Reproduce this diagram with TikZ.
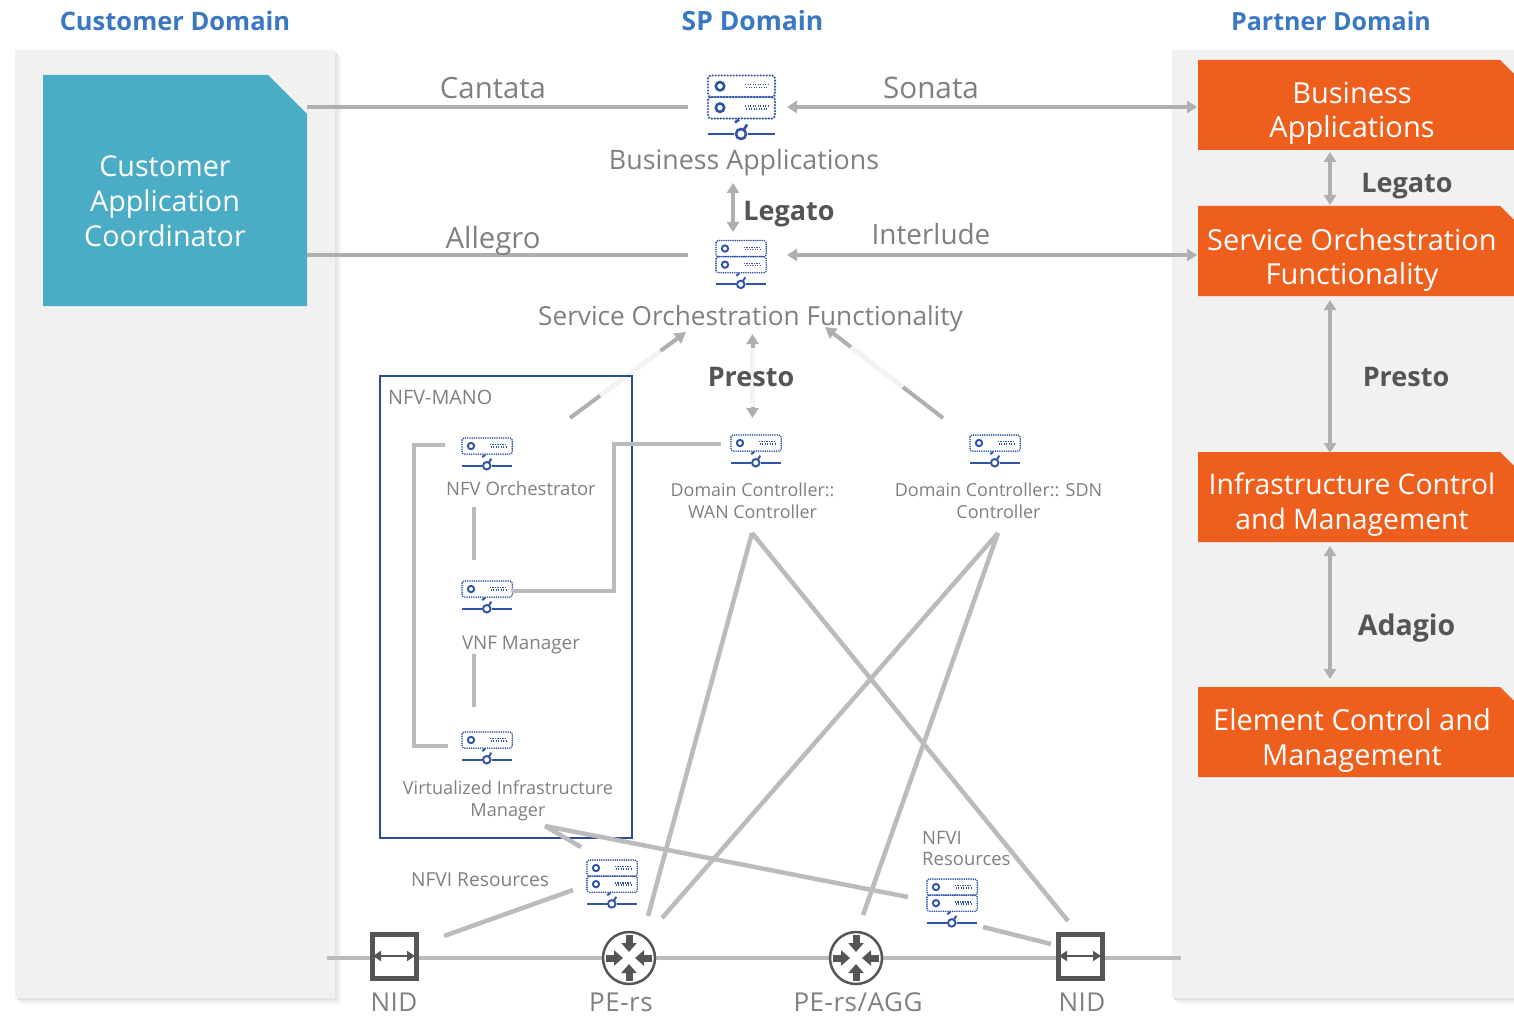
\documentclass[tikz,border=0pt]{standalone}
\usepackage{fontspec}
\setmainfont{Open Sans}
\usetikzlibrary{arrows.meta,calc}
\definecolor{panelc}{HTML}{F1F1F1}
\definecolor{tealc}{HTML}{4AACC5}
\definecolor{orangec}{HTML}{EE5F1D}
\definecolor{headc}{HTML}{3A78C3}
\definecolor{linec}{HTML}{BBBBBB}
\definecolor{arrowc}{HTML}{AFAFAF}
\definecolor{textc}{HTML}{808080}
\definecolor{boldc}{HTML}{555555}
\definecolor{iconc}{HTML}{2F55A4}
\definecolor{darkc}{HTML}{555555}
\definecolor{fadec}{HTML}{F3F3F3}
\newcommand{\fs}[1]{\fontsize{#1}{#1}\selectfont}
\newcommand{\softpanel}[4]{%
  \fill[black!4] (#1+6,#2+6) rectangle (#3+6,#4+6);
  \fill[black!7] (#1+4,#2+4) rectangle (#3+4,#4+4);
  \fill[black!11] (#1+2,#2+2) rectangle (#3+2,#4+2);
  \fill[panelc] (#1,#2) rectangle (#3,#4);}
\tikzset{
  lbl/.style={text=textc,inner sep=0pt,align=center,font=\fs{27}},
  botlbl/.style={text=textc,inner sep=0pt,align=center,font=\fs{26}\addfontfeature{LetterSpace=2}},
  smalllbl/.style={text=textc,inner sep=0pt,align=center,font=\fs{18.5},text depth=0pt},
  head/.style={text=headc,inner sep=0pt},
  proto/.style={text=boldc,inner sep=0pt,font=\fs{27}\bfseries},
  whitetxt/.style={text=white,inner sep=0pt,align=center,font=\fs{29}},
  conn/.style={draw=linec,line width=4.5pt},
  both/.style={draw=arrowc,line width=4pt,{Triangle[length=10pt,width=12pt]}-{Triangle[length=10pt,width=12pt]}},
  bothv/.style={both,line width=4.6pt},
  tipend/.style={draw=arrowc,line width=4pt,-{Triangle[length=11pt,width=12pt]}},
  fadeseg/.style={draw=fadec,line width=4.6pt},
  anchorpt/.style={inner sep=0pt,minimum size=0pt},
}
% name, x, y of top-left, scale, rows
\newcommand{\srvicon}[5]{%
  \begin{scope}[shift={(#2,#3)},x=#4pt,y=-#4pt]
    \node[anchorpt] (#1) at (33.5,30) {};
    \pgfmathsetmacro{\rowh}{21.5}
    \foreach \r in {1,...,#5}{
      \pgfmathsetmacro{\ya}{(\r-1)*\rowh}
      \pgfmathsetmacro{\yb}{\r*\rowh}
      \draw[iconc,line width=#4*2.4pt,line cap=round,dash pattern=on 0pt off #4*3pt,rounded corners=#4*3pt] (0,\ya) rectangle (67,\yb);
      \draw[iconc,line width=#4*2.6pt] (12,\ya+10.7) circle (4.2);
      \draw[iconc,line width=#4*1.7pt,dash pattern=on 1.4pt off 1.1pt] (37,\ya+9) -- (60,\ya+9);
      \draw[iconc,line width=#4*1.7pt,dash pattern=on 1.4pt off 1.1pt] (38,\ya+12) -- (59,\ya+12);
    }
    \pgfmathsetmacro{\yc}{#5*\rowh}
    \draw[iconc,line width=#4*2.6pt] (0,\yc+15.5) -- (26,\yc+15.5) (40,\yc+15.5) -- (67,\yc+15.5);
    \draw[iconc,line width=#4*2.6pt] (33,\yc+15.5) circle (5);
    \draw[iconc,line width=#4*2.6pt] (31,\yc+1) -- (27,\yc+4) (36,\yc+11) -- (39,\yc+6);
  \end{scope}}
% name, centre x, y
\newcommand{\nidicon}[3]{%
  \node[draw=darkc,line width=5pt,minimum size=44pt,inner sep=0pt,fill=white] (#1) at (#2,#3) {};
  \draw[darkc,line width=2.5pt,{Triangle[length=8pt,width=10pt]}-{Triangle[length=8pt,width=10pt]}] ($(#1.west)+(3.5,0)$) -- ($(#1.east)+(-3.5,0)$);}
\newcommand{\routericon}[3]{%
  \node[circle,draw=darkc,line width=2.5pt,minimum size=52pt,inner sep=0pt,fill=white] (#1) at (#2,#3) {};
  \foreach \a in {0,90,180,270}{
    \draw[darkc,line width=7pt,-{Triangle[length=9pt,width=15pt]}] ($(#1)+(\a:23)$) -- ($(#1)+(\a:6)$);
  }}
\begin{document}
\begin{tikzpicture}[x=1pt,y=-1pt]
\useasboundingbox (0,0) rectangle (1514,1016);
\fill[white] (0,0) rectangle (1514,1016);
% panels
\softpanel{15}{50}{335}{998}
\softpanel{1172}{50}{1514}{998}
% headers
\node[head,font=\fs{25.5}\bfseries] (h1) at (175,21) {Customer Domain};
\node[head,font=\fs{26.5}\bfseries] (h2) at (752.5,21) {SP Domain};
\node[head,font=\fs{25}\bfseries] (h3) at (1331,21) {Partner Domain};
% customer box
\fill[tealc] (43,75) -- (268,75) -- (307,114) -- (307,306) -- (43,306) -- cycle;
\node[whitetxt,font=\fs{28.7}] (cac) at (165,201) {Customer\\[6.3pt]Application\\[6.3pt]Coordinator};
\coordinate (cacT) at (307,107);
\coordinate (cacB) at (307,255);
% orange boxes
\foreach \n/\ya in {b1/60,b2/206,b3/452,b4/687}{
  \fill[orangec] (1198,\ya) -- (1500,\ya) -- (1514,\ya+14) -- (1514,\ya+90) -- (1198,\ya+90) -- cycle;
  \coordinate (\n) at (1198,\ya+47);
}
\node[whitetxt] (t1) at (1352,113) {Business\\[5pt]Applications};
\node[whitetxt] (t2) at (1352,259.5) {Service Orchestration\\[5pt]Functionality};
\node[whitetxt,font=\fs{28.3}] (t3) at (1352,505) {Infrastructure Control\\[6.7pt]and Management};
\node[whitetxt] (t4) at (1352,740.5) {Element Control and\\[6pt]Management};
% icons
\srvicon{ba}{708}{75.5}{1}{2}
\srvicon{so}{716}{240.5}{.75}{2}
\srvicon{nfvo}{462}{438}{.75}{1}
\srvicon{vnfm}{462}{581}{.75}{1}
\srvicon{vim}{462}{732}{.75}{1}
\srvicon{wan}{731}{435}{.75}{1}
\srvicon{sdn}{970}{435}{.75}{1}
\srvicon{res1}{587}{860}{.75}{2}
\srvicon{res2}{927}{879}{.75}{2}
% endpoint coordinates
\coordinate (baL) at (688,107); \coordinate (baR) at (787,107);
\coordinate (soL) at (688,255); \coordinate (soR) at (787,255);
\coordinate (legT) at (733,183); \coordinate (legB) at (733,232);
\coordinate (r1a) at (1330,152); \coordinate (r1b) at (1330,205);
\coordinate (r2a) at (1330,300); \coordinate (r2b) at (1330,453);
\coordinate (r3a) at (1330,546); \coordinate (r3b) at (1330,679);
\coordinate (sonR) at (1197,107); \coordinate (intR) at (1197,255);
% top connectors
\draw[conn,draw=arrowc] (cacT) -- (baL);
\draw[conn,draw=arrowc] (cacB) -- (soL);
\draw[both] (baR) -- (sonR);
\draw[both] (soR) -- (intR);
\draw[bothv] (legT) -- (legB);
\draw[bothv] (r1a) -- (r1b);
\draw[bothv] (r2a) -- (r2b);
\draw[bothv] (r3a) -- (r3b);
% presto arrows with faded middle parts
\coordinate (pLa) at (570,418); \coordinate (pLb) at (686,332);
\coordinate (pCa) at (752.5,334); \coordinate (pCb) at (752.5,418);
\coordinate (pRa) at (943,418); \coordinate (pRb) at (825,327);
\draw[tipend] (pLa) -- (pLb);
\draw[both] (pCa) -- (pCb);
\draw[tipend] (pRa) -- (pRb);
\draw[fadeseg] ($(pLa)!.26!(pLb)$) -- ($(pLa)!.78!(pLb)$);
\draw[fadeseg] (pCa|-0,348) -- (pCa|-0,407);
\draw[fadeseg] ($(pRa)!.34!(pRb)$) -- ($(pRa)!.78!(pRb)$);
% MANO box
\node[draw=iconc!90!black,line width=1.6pt,minimum width=252pt,minimum height=462pt,inner sep=0pt] (mano) at (506,607) {};
\node[text=textc,inner sep=0pt,font=\fs{19.8},anchor=west] (manol) at (388,397.5) {NFV-MANO};
% mano connectors
\coordinate (brA) at (445,445); \coordinate (brB) at (448,746);
\coordinate (m1a) at (474,507); \coordinate (m1b) at (474,560);
\coordinate (m2a) at (474,654); \coordinate (m2b) at (474,707);
\coordinate (vnR) at (512,591); \coordinate (wnL) at (721,444);
\draw[conn] (brA) -- (414,445) -- (414,746) -- (brB);
\draw[conn] (m1a) -- (m1b);
\draw[conn] (m2a) -- (m2b);
\draw[conn] (vnR) -- (614,591) -- (614,444) -- (wnL);
% lower connectors
\coordinate (wanB) at (752,533); \coordinate (sdnB) at (998,533);
\coordinate (peA) at (648,916); \coordinate (peB) at (662,918);
\coordinate (agA) at (863,915); \coordinate (nidT) at (1068,921);
\coordinate (vimB) at (545,826); \coordinate (vimA) at (581,847); \coordinate (res2L) at (908,897);
\coordinate (res1L) at (573,890); \coordinate (nid1T) at (444,936);
\coordinate (res2R) at (983,927); \coordinate (nid2L) at (1051,944);
\coordinate (busL) at (327,958); \coordinate (busR) at (1181,958);
\draw[conn] (wanB) -- (peA);
\draw[conn] (wanB) -- (nidT);
\draw[conn] (sdnB) -- (peB);
\draw[conn] (sdnB) -- (agA);
\draw[conn] (vimB) -- (vimA);
\draw[conn] (vimB) -- (res2L);
\draw[conn] (res1L) -- (nid1T);
\draw[conn] (res2R) -- (nid2L);
\draw[conn] (busL) -- (busR);
% devices
\nidicon{nid1}{394}{956}
\nidicon{nid2}{1080}{956}
\routericon{pe1}{629}{958}
\routericon{pe2}{856}{958}
% labels
\node[lbl,font=\fs{29.3}] (l1) at (493,88) {Cantata};
\node[lbl,font=\fs{29.7}] (l2) at (931,88) {Sonata};
\node[lbl,font=\fs{29.3}] (l3) at (493,241) {Allegro};
\node[lbl,font=\fs{27.9}] (l4) at (931,234) {Interlude};
\node[lbl,font=\fs{26.8}] (l5) at (744,163) {Business Applications};
\node[lbl,font=\fs{26.2}] (l6) at (750.5,319) {Service Orchestration Functionality};
\node[proto] (p1) at (789,214) {Legato};
\node[proto] (p2) at (1407,186) {Legato};
\node[proto] (p3) at (751,377) {Presto};
\node[proto] (p4) at (1406,377) {Presto};
\node[proto,font=\fs{28.5}\bfseries] (p5) at (1406.5,628) {Adagio};
\node[smalllbl] (s1) at (521,488.5) {NFV Orchestrator};
\node[smalllbl,font=\fs{18.8}] (s2) at (521,642.5) {VNF Manager};
\node[smalllbl,font=\fs{18.1}] (s3) at (508,798.5) {Virtualized Infrastructure\\[3.4pt]Manager};
\node[smalllbl,font=\fs{17.9}] (s4) at (752.5,500.5) {Domain Controller::\\[3.6pt]WAN Controller};
\node[smalllbl,font=\fs{18}] (s5) at (998.5,500.5) {Domain Controller:: SDN\\[3.5pt]Controller};
\node[smalllbl,font=\fs{19.2}] (s6) at (480,879.5) {NFVI Resources};
\node[smalllbl,align=left,anchor=west] (s7) at (922,848.5) {NFVI\\[3pt]Resources};
\node[botlbl] (n1) at (394,1002.5) {NID};
\node[botlbl] (n2) at (621,1002.5) {PE-rs};
\node[botlbl] (n3) at (858,1002) {PE-rs/AGG};
\node[botlbl] (n4) at (1082,1002.5) {NID};
\end{tikzpicture}
\end{document}
